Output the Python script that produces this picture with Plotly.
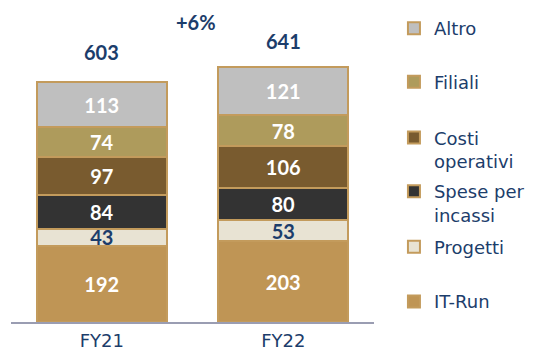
import plotly.graph_objects as go

# Cost breakdown by year (values in € m)
years = ["FY21", "FY22"]
it_run = [192, 203]
progetti = [43, 53]
spese_incassi = [84, 80]
costi_operativi = [97, 106]
filiali = [74, 78]
altro = [113, 121]
totals = [603, 641]
growth_label = "+6%"

NAVY = "#1C3D6B"
TAN_EDGE = "#C39B5C"

series = [
    ("IT-Run", it_run, "#BF9555", "white"),
    ("Progetti", progetti, "#E8E3D3", NAVY),
    ("Spese per<br>incassi", spese_incassi, "#333333", "white"),
    ("Costi<br>operativi", costi_operativi, "#795B2F", "white"),
    ("Filiali", filiali, "#AE9B5C", "white"),
    ("Altro", altro, "#BFBFBF", "white"),
]

# top pixel of each legend entry, top to bottom
legend_rows = {"Altro": 8, "Filiali": 62, "Costi<br>operativi": 118,
               "Spese per<br>incassi": 172, "Progetti": 228, "IT-Run": 283}

W, H = 540, 352
ML, MR, MT, MB = 11, 165, 10, 30
plot_w = W - ML - MR
plot_h = H - MT - MB

fig = go.Figure()
layout_legends = {}
for i, (name, vals, color, tcolor) in enumerate(series):
    key = "legend" if i == 0 else f"legend{i + 1}"
    fig.add_trace(go.Bar(
        x=years, y=vals, name=name,
        marker=dict(color=color, line=dict(color=TAN_EDGE, width=2)),
        text=[str(v) for v in vals],
        textposition="inside",
        insidetextanchor="middle",
        textangle=0,
        constraintext="none",
        textfont=dict(family="Lato", size=20, color=tcolor, weight="bold"),
        legend=key,
        hoverinfo="skip",
    ))
    layout_legends[key] = dict(
        x=(395 - ML) / plot_w, xanchor="left",
        y=(H - MB - legend_rows[name]) / plot_h, yanchor="top",
        valign="top", bgcolor="rgba(0,0,0,0)",
        font=dict(family="DejaVu Sans", size=18, color=NAVY),
    )

# totals above each stack
for yr, tot, shift in zip(years, totals, [16, 12]):
    fig.add_annotation(x=yr, y=tot, text=f"<b>{tot}</b>", showarrow=False,
                       yanchor="bottom", yshift=shift,
                       font=dict(family="Lato", size=20, color=NAVY))

fig.add_annotation(x=0.52, y=755, xref="x", yref="y", text=f"<b>{growth_label}</b>",
                   showarrow=False, font=dict(family="Lato", size=20, color=NAVY))

fig.update_layout(
    width=W, height=H,
    margin=dict(l=ML, r=MR, t=MT, b=MB),
    barmode="stack", bargap=0.286,
    plot_bgcolor="white", paper_bgcolor="white",
    showlegend=True,
    xaxis=dict(showline=True, linecolor="#9A9DB2", linewidth=2, ticks="",
               tickfont=dict(family="DejaVu Sans", size=18, color=NAVY),
               ticklabelstandoff=1, automargin=False,
               range=[-0.5, 1.5], fixedrange=True),
    yaxis=dict(visible=False, range=[0, plot_h / 0.4], fixedrange=True,
               automargin=False),
    **layout_legends,
)

fig.write_html("out.html")
